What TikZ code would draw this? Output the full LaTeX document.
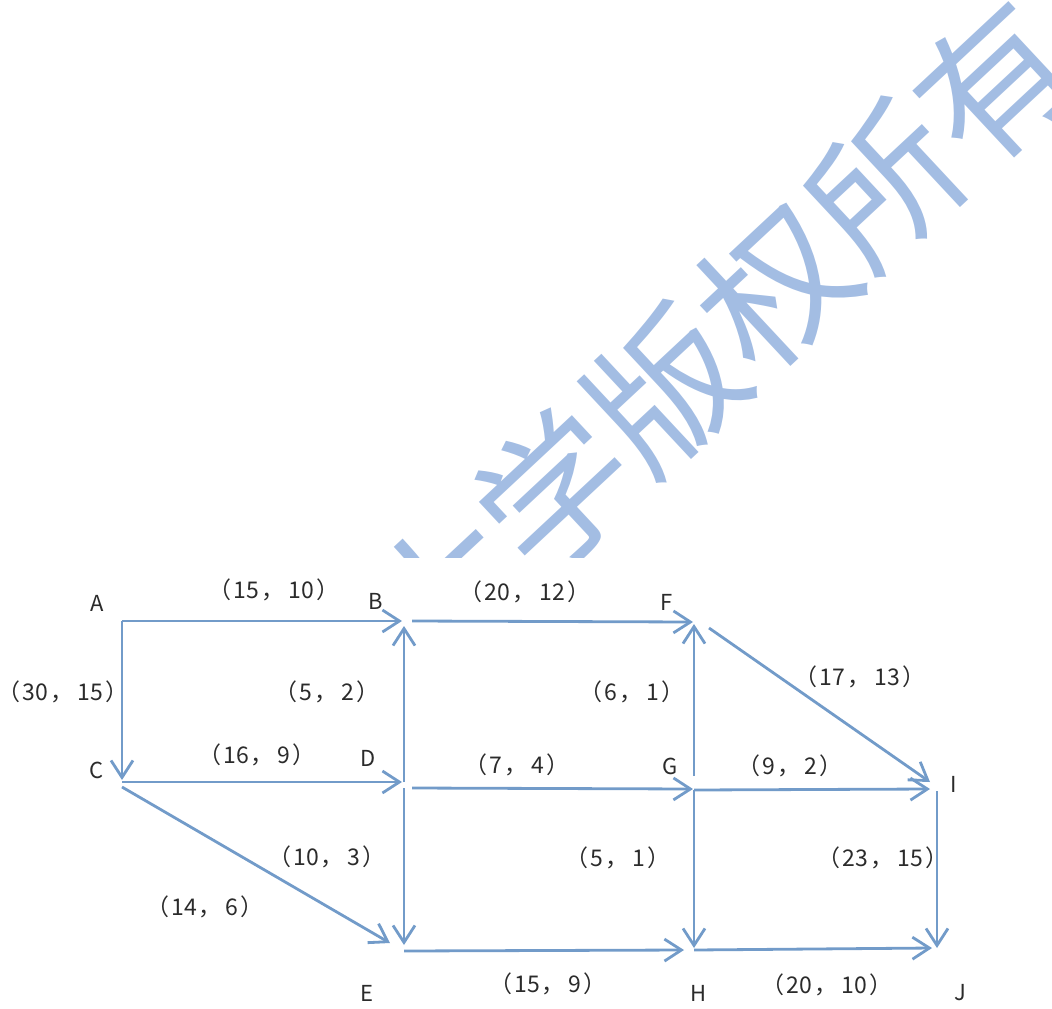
\documentclass[tikz,border=0pt]{standalone}
\usepackage{fontspec}
\newfontfamily\cjk{Noto Sans CJK SC}
\usetikzlibrary{arrows.meta}
\definecolor{edgeblue}{HTML}{729BC9}
\definecolor{wmblue}{HTML}{A3BDE3}
\definecolor{txt}{HTML}{2B2B2B}
\newcommand\pairlab[2]{（\kern2pt#1\kern2pt，\kern4pt#2\kern2pt）}
\tikzset{
  edge/.style={draw=edgeblue, line width=2.8pt, -{Straight Barb[length=17pt,width=22pt]}},
  lbl/.style={inner sep=0pt, text=txt, font=\cjk\fontsize{23}{27}\selectfont},
  vtx/.style={inner sep=0pt, text=txt, font=\cjk\fontsize{22}{26}\selectfont},
  wmch/.style={inner sep=0pt, text=wmblue, font=\cjk\fontsize{150}{150}\selectfont, rotate=43},
}
\begin{document}
\begin{tikzpicture}[x=1pt,y=-1pt]
\useasboundingbox (0,0) rectangle (1052,1009);
% watermark
\begin{scope}
\clip (0,0) rectangle (1052,557);
\node[wmch] (wm) at (720,338) {大学版权所有};
\end{scope}
% vertex labels
\node[vtx] (A) at (97,603) {A};
\node[vtx] (B) at (376,601) {B};
\node[vtx] (F) at (667,602) {F};
\node[vtx] (C) at (97,770) {C};
\node[vtx] (D) at (368,758) {D};
\node[vtx] (G) at (670,766) {G};
\node[vtx] (I) at (954,784) {I};
\node[vtx] (E) at (367,993) {E};
\node[vtx] (H) at (698,993) {H};
\node[vtx] (J) at (960,993) {J};
% connector end points
\coordinate (a0) at (122,621);
\coordinate (b1) at (402,621);
\coordinate (c1) at (122,780);
\coordinate (c0) at (122,782);
\coordinate (d1) at (402,782);
\coordinate (d0) at (404,782);
\coordinate (b2) at (404,626);
\coordinate (b0) at (412,621);
\coordinate (f1) at (693,622);
\coordinate (d2) at (412,788);
\coordinate (g1) at (693,789);
\coordinate (g2) at (694,776);
\coordinate (f2) at (694,624);
\coordinate (f0) at (709,628);
\coordinate (i1) at (930,782);
\coordinate (g0) at (694,790);
\coordinate (i2) at (930,789);
\coordinate (i0) at (937,791);
\coordinate (j1) at (937,948);
\coordinate (d3) at (404,788);
\coordinate (e1) at (404,945);
\coordinate (c2) at (122,787);
\coordinate (e2) at (390,943);
\coordinate (e0) at (404,951);
\coordinate (h1) at (684,950);
\coordinate (h2) at (694,948);
\coordinate (h0) at (694,950);
\coordinate (j2) at (932,948);
% connectors
\draw[edge] (a0) -- (b1);
\draw[edge] (a0) -- (c1);
\draw[edge] (c0) -- (d1);
\draw[edge] (d0) -- (b2);
\draw[edge] (b0) -- (f1);
\draw[edge] (d2) -- (g1);
\draw[edge] (g2) -- (f2);
\draw[edge] (f0) -- (i1);
\draw[edge] (g0) -- (i2);
\draw[edge] (i0) -- (j1);
\draw[edge] (d3) -- (e1);
\draw[edge] (c2) -- (e2);
\draw[edge] (e0) -- (h1);
\draw[edge] (g0) -- (h2);
\draw[edge] (h0) -- (j2);
% edge labels
\node[lbl] (lAB) at (274,590) {\pairlab{15}{10}};
\node[lbl] (lBF) at (525,592) {\pairlab{20}{12}};
\node[lbl] (lAC) at (63,692) {\pairlab{30}{15}};
\node[lbl] (lDB) at (327,692) {\pairlab{5}{2}};
\node[lbl] (lGF) at (632,692) {\pairlab{6}{1}};
\node[lbl] (lFI) at (860,677) {\pairlab{17}{13}};
\node[lbl] (lCD) at (257,755) {\pairlab{16}{9}};
\node[lbl] (lDG) at (517,765) {\pairlab{7}{4}};
\node[lbl] (lGI) at (790,766) {\pairlab{9}{2}};
\node[lbl] (lDE) at (327,857) {\pairlab{10}{3}};
\node[lbl] (lGH) at (618,858) {\pairlab{5}{1}};
\node[lbl] (lIJ) at (883,858) {\pairlab{23}{15}};
\node[lbl] (lCE) at (205,907) {\pairlab{14}{6}};
\node[lbl] (lEH) at (548,984) {\pairlab{15}{9}};
\node[lbl] (lHJ) at (827,985) {\pairlab{20}{10}};
\end{tikzpicture}
\end{document}
